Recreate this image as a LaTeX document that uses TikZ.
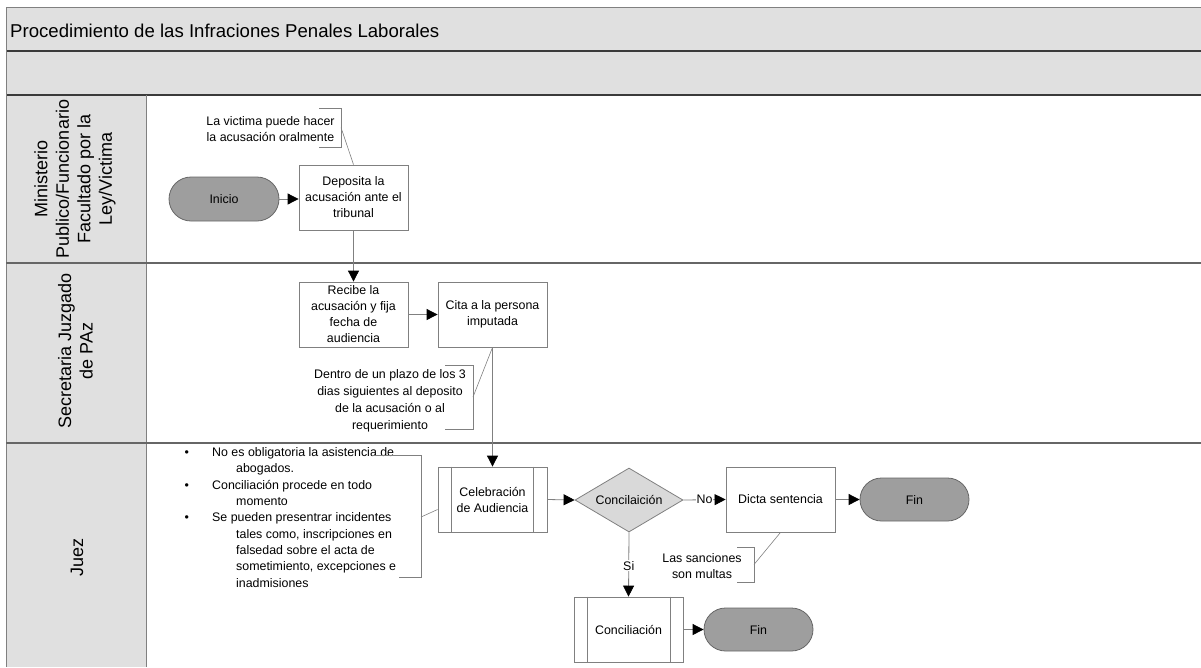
\documentclass[tikz,border=0pt]{standalone}
\usepackage{fontspec}
\setmainfont{Liberation Sans}
\usetikzlibrary{arrows.meta,shapes.geometric,calc}
\definecolor{bandgray}{HTML}{E0E0E0}
\definecolor{fingray}{HTML}{9E9E9E}
\definecolor{diagray}{HTML}{D9D9D9}
\definecolor{edgegray}{HTML}{808080}
\definecolor{linegray}{HTML}{666666}
\definecolor{darkline}{HTML}{3A3A3A}
\begin{document}
\begin{tikzpicture}[x=1pt,y=-1pt,
  small/.style={font=\fontsize{12.4}{16}\selectfont},
  procbox/.style={small,draw=edgegray,line width=0.8pt,fill=white,minimum width=109pt,minimum height=65pt,inner sep=2pt,align=center},
  term/.style={small,draw=linegray,line width=0.8pt,fill=fingray,rounded corners=21.5pt,minimum width=109pt,minimum height=43pt,inner sep=2pt},
  decis/.style={small,diamond,draw=edgegray,line width=0.8pt,fill=diagray,minimum width=108pt,minimum height=64pt,inner sep=0pt,aspect=1.69},
  conn/.style={draw=edgegray,line width=0.8pt,-{Triangle[length=11pt,width=11pt,color=black]}},
  anno/.style={draw=edgegray,line width=0.6pt},
  notetext/.style={small,align=center,inner sep=0pt},
  lbl/.style={small,fill=white,inner sep=1pt},
  lanelabel/.style={font=\fontsize{18}{21.5}\selectfont,rotate=90,align=center,inner sep=0pt},
  frameline/.style={line width=1pt}
]
\useasboundingbox (0,0) rectangle (1201,667);
% bands and lane column
\fill[bandgray] (6,7) rectangle (1201,95);
\fill[bandgray] (6,95) rectangle (146,667);
\draw[frameline,draw=gray] (6,7) -- (1201,7);
\draw[frameline,draw=darkline,line width=1.2pt] (6,51) -- (1201,51);
\draw[frameline,draw=darkline,line width=1.8pt] (6,95) -- (1201,95);
\draw[frameline,draw=gray] (6,7) -- (6,667);
\draw[frameline,draw=gray] (146,95) -- (146,667);
\draw[frameline,draw=linegray,line width=1.2pt] (6,263) -- (1201,263);
\draw[frameline,draw=linegray,line width=1.2pt] (6,443) -- (1201,443);
% title
\node[anchor=west,font=\fontsize{18.6}{22}\selectfont,inner sep=0pt] (title) at (10,31) {Procedimiento de las Infraciones Penales Laborales};
% lane labels
\node[lanelabel] (lane1) at (75,179) {Ministerio\\Publico/Funcionario\\Facultado por la\\Ley/Victima};
\node[lanelabel] (lane2) at (75.5,351) {Secretaria Juzgado\\de PAz};
\node[lanelabel] (lane3) at (77,557) {Juez};
% shapes
\node[term,minimum width=110pt,minimum height=44pt,rounded corners=22pt] (ini) at (224,199) {Inicio};
\node[procbox] (dep) at (353.5,197.5) {Deposita la\\acusación ante el\\tribunal};
\node[procbox] (rec) at (353.5,314.5) {Recibe la\\acusación y fija\\fecha de\\audiencia};
\node[procbox] (cita) at (492.5,314.5) {Cita a la persona\\imputada};
\node[procbox] (cel) at (492.5,499.5) {Celebración\\de Audiencia};
\draw[edgegray,line width=0.8pt] ($(cel.north west)+(14,0)$) -- ($(cel.south west)+(14,0)$);
\draw[edgegray,line width=0.8pt] ($(cel.north east)+(-14,0)$) -- ($(cel.south east)+(-14,0)$);
\node[decis] (dia) at (629,500) {Concilaición};
\node[procbox] (dicta) at (780.5,499.5) {Dicta sentencia};
\node[term] (fin1) at (914.5,499.5) {Fin};
\node[procbox] (conc) at (628.5,629.5) {Conciliación};
\draw[edgegray,line width=0.8pt] ($(conc.north west)+(14,0)$) -- ($(conc.south west)+(14,0)$);
\draw[edgegray,line width=0.8pt] ($(conc.north east)+(-13,0)$) -- ($(conc.south east)+(-13,0)$);
\node[term] (fin2) at (758.5,629.5) {Fin};
% connectors
\draw[conn] (ini.east) -- (ini.east -| dep.west);
\draw[conn] (dep.south) -- (rec.north);
\draw[conn] (rec.east) -- (cita.west);
\draw[conn] (cita.south) -- (cel.north);
\draw[conn] (cel.east) -- (dia.west);
\draw[conn] (dia.east) -- node[lbl] {No} (dicta.west);
\draw[conn] (dicta.east) -- (fin1.west);
\draw[conn] (dia.south) -- node[lbl,pos=0.52] {Si} (conc.north);
\draw[conn] (conc.east) -- (fin2.west);
% annotations
\node[notetext] (n1) at (270.5,129) {La victima puede hacer\\la acusación oralmente};
\draw[anno] (319,108) -- (341,108) -- (341,147) -- (319,147);
\coordinate (b1) at (341,127.5);
\draw[anno] (b1) -- (dep.north);

\node[notetext,font=\fontsize{12.4}{17}\selectfont] (n2) at (390,400.5) {Dentro de un plazo de los 3\\dias siguientes al deposito\\de la acusación o al\\requerimiento};
\draw[anno] (445,365) -- (473,365) -- (473,429) -- (445,429);
\coordinate (b2) at (473,397);
\draw[anno] (b2) -- (cita.south);

\node[anchor=north west,align=left,inner sep=0pt,font=\fontsize{12.4}{16.3}\selectfont] (n3) at (184.5,447.5) {%
\makebox[27.5pt][l]{\textbullet}No es obligatoria la asistencia de\\
\hspace*{51.5pt}abogados.\\
\makebox[27.5pt][l]{\textbullet}Conciliación procede en todo\\
\hspace*{51.5pt}momento\\
\makebox[27.5pt][l]{\textbullet}Se pueden presentrar incidentes\\
\hspace*{51.5pt}tales como, inscripciones en\\
\hspace*{51.5pt}falsedad sobre el acta de\\
\hspace*{51.5pt}sometimiento, excepciones e\\
\hspace*{51.5pt}inadmisiones};
\draw[anno] (372,455) -- (421,455) -- (421,577) -- (399,577);
\coordinate (b3) at (421,517);
\draw[anno] (b3) -- ($(cel.west)+(0,10)$);

\node[notetext] (n4) at (702,566) {Las sanciones\\son multas};
\draw[anno] (737,547) -- (754,547) -- (754,582) -- (737,582);
\coordinate (b4) at (754,564.5);
\draw[anno] (b4) -- (dicta.south);
\end{tikzpicture}
\end{document}
